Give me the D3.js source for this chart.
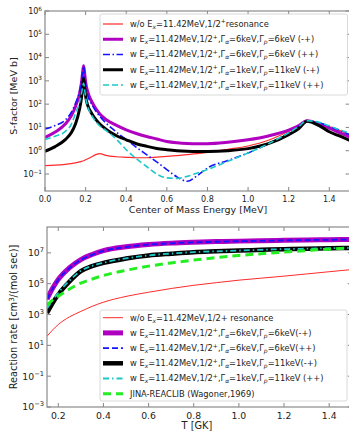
<!DOCTYPE html>
<html>
<head>
<meta charset="utf-8">
<script src="https://cdn.jsdelivr.net/npm/d3@7"></script>
<style>
  body { margin: 0; background: #fff; }
  svg { display: block; font-family: "DejaVu Sans", sans-serif; }
</style>
</head>
<body>
<div id="chart"></div>
<script>
// ---- top panel: S-factor vs centre of mass energy
var energy = [0, 0.05, 0.1, 0.13, 0.15, 0.17, 0.18, 0.185, 0.19, 0.195, 0.2, 0.21, 0.23, 0.25, 0.27, 0.3,
  0.35, 0.4, 0.45, 0.5, 0.55, 0.6, 0.65, 0.7, 0.75, 0.8, 0.9, 1.0, 1.1, 1.2, 1.25, 1.29, 1.35, 1.4, 1.45, 1.5];
var sNoRes = [0.23, 0.24, 0.26, 0.28, 0.3, 0.33, 0.35, 0.36, 0.37, 0.39, 0.41, 0.45, 0.55, 0.68, 0.75, 0.63,
  0.55, 0.52, 0.5, 0.5, 0.53, 0.57, 0.62, 0.68, 0.75, 0.85, 1.15, 1.6, 2.8, 6.8, 11.5, 19.5, 16, 11, 7.5, 4.9];
var s6mp = [3.7, 6.3, 14, 32, 80, 280, 900, 2200, 4500, 2200, 900, 350, 130, 65, 38, 22,
  12.6, 7.9, 5.5, 4.1, 3.2, 2.5, 2.2, 2.05, 2.0, 2.0, 2.3, 2.95, 4.3, 7.6, 12, 19.5, 14, 9.3, 6.0, 3.9];
var s6pp = [8.5, 12, 21, 45, 110, 350, 1000, 2300, 4300, 2000, 750, 250, 100, 50, 30, 15.5,
  6.5, 3.0, 1.4, 0.68, 0.33, 0.155, 0.075, 0.049, 0.085, 0.18, 0.38, 0.8, 2.0, 5.8, 11, 19, 16, 11, 7.5, 4.9];
var s1mp = [0.95, 1.5, 3.0, 6, 14, 60, 200, 550, 1300, 550, 220, 90, 40, 22, 14, 8.5,
  4.5, 2.95, 2.0, 1.55, 1.25, 1.1, 1.0, 0.95, 0.93, 0.93, 1.0, 1.23, 2.0, 4.9, 9, 18.5, 12, 6.5, 4.3, 2.8];
var s1pp = [3.0, 4.2, 6.8, 14, 40, 120, 300, 520, 800, 450, 200, 80, 33, 18, 11.5, 7.5,
  3.2, 1.1, 0.45, 0.21, 0.1, 0.068, 0.065, 0.079, 0.11, 0.155, 0.35, 0.8, 2.0, 5.8, 11, 19.5, 16.5, 11.7, 8, 5.7];

// ---- bottom panel: reaction rate vs temperature
var temp = [0.15, 0.175, 0.2, 0.25, 0.3, 0.35, 0.4, 0.5, 0.6, 0.7, 0.8, 0.9, 1.0, 1.1, 1.2, 1.3, 1.4, 1.5];
var rNoRes = [39, 100, 224, 710, 1.6e3, 3.4e3, 6.3e3, 1.5e4, 2.8e4, 4.9e4, 7.9e4, 1.17e5, 1.7e5, 2.3e5, 3.1e5, 4.3e5, 6.0e5, 8.3e5];
var r6mp = [1.0e4, 5.0e4, 1.9e5, 1.1e6, 3.7e6, 7.9e6, 1.4e7, 2.5e7, 3.5e7, 4.3e7, 4.9e7, 5.4e7, 5.8e7, 6.2e7, 6.6e7, 6.9e7, 7.2e7, 7.4e7];
var r6pp = [9.5e3, 4.8e4, 1.8e5, 1.05e6, 3.5e6, 7.5e6, 1.35e7, 2.4e7, 3.4e7, 4.2e7, 4.8e7, 5.3e7, 5.7e7, 6.1e7, 6.5e7, 6.8e7, 7.1e7, 7.3e7];
var r1mp = [1.25e3, 5.6e3, 2.0e4, 1.4e5, 6.5e5, 1.4e6, 2.25e6, 4.3e6, 6.8e6, 8.9e6, 1.12e7, 1.26e7, 1.41e7, 1.58e7, 1.74e7, 1.86e7, 2.0e7, 2.1e7];
var r1pp = [2.5e3, 8.5e3, 2.6e4, 1.6e5, 6.9e5, 1.45e6, 2.3e6, 4.4e6, 6.9e6, 9.0e6, 1.13e7, 1.27e7, 1.42e7, 1.59e7, 1.75e7, 1.87e7, 2.0e7, 2.1e7];
var rJina = [4.0e3, 8.9e3, 1.55e4, 4.5e4, 1.1e5, 2.0e5, 3.4e5, 7.4e5, 1.38e6, 2.24e6, 3.4e6, 4.9e6, 6.8e6, 8.9e6, 1.12e7, 1.41e7, 1.74e7, 2.1e7];

// tick labels
var topXTicks = [0, 0.2, 0.4, 0.6, 0.8, 1.0, 1.2, 1.4];
var topYTicks = [-1, 0, 1, 2, 3, 4, 5, 6];
var botXTicks = [0.2, 0.4, 0.6, 0.8, 1.0, 1.2, 1.4];
var botYTicks = [-3, -1, 1, 3, 5, 7];

// legend labels (_{..} subscript, ^{..} superscript)
var topLabels = [
  "w/o E_{x}=11.42MeV,1/2^{+}resonance",
  "w E_{x}=11.42MeV,1/2^{+},Γ_{α}=6keV,Γ_{p}=6keV (-+)",
  "w E_{x}=11.42MeV,1/2^{+},Γ_{α}=6keV,Γ_{p}=6keV (++)",
  "w E_{x}=11.42MeV,1/2^{+},Γ_{α}=1keV,Γ_{p}=11keV (-+)",
  "w E_{x}=11.42MeV,1/2^{+},Γ_{α}=1keV,Γ_{p}=11keV (++)"
];
var botLabels = [
  "w/o E_{x}=11.42MeV,1/2+ resonance",
  "w E_{x}=11.42MeV,1/2^{+},Γ_{α}=6keV,Γ_{p}=6keV(-+)",
  "w E_{x}=11.42MeV,1/2^{+},Γ_{α}=6keV,Γ_{p}=6keV(++)",
  "w E_{x}=11.42MeV,1/2^{+},Γ_{α}=1keV,Γ_{p}=11keV(-+)",
  "w E_{x}=11.42MeV,1/2^{+},Γ_{α}=1keV,Γ_{p}=11keV (++)",
  "JINA-REACLIB (Wagoner,1969)"
];

var width = 349, height = 432;
var svg = d3.select("#chart").append("svg").attr("width", width).attr("height", height);

var topStyles = [
  {color: "#ff2a2a", w: 1.2, dash: null},
  {color: "#b000c0", w: 3, dash: null},
  {color: "#1414ff", w: 1.6, dash: "7,2.5,1.5,2.5"},
  {color: "#000000", w: 3, dash: null},
  {color: "#1ec8c8", w: 1.6, dash: "6,3"}
];
var botStyles = [
  {color: "#ff2a2a", w: 1, dash: null},
  {color: "#b000c0", w: 5, dash: null},
  {color: "#1414ff", w: 1.8, dash: "6,3"},
  {color: "#000000", w: 4.5, dash: null},
  {color: "#1ec8c8", w: 1.8, dash: "6,3,1.5,3"},
  {color: "#22ee22", w: 3, dash: "8,5"}
];

// splits "a_{b}c^{d}" into tspans, shifting baseline for sub/superscripts
function richText(sel, str) {
  var re = /([_^])\{([^}]*)\}/g, last = 0, m, back = 0;
  function plain(s) {
    if (!s) return;
    sel.append("tspan").attr("dy", back || null).text(s);
    back = 0;
  }
  while ((m = re.exec(str)) !== null) {
    plain(str.slice(last, m.index));
    var sub = m[1] === "_";
    var shift = sub ? 2 : -3.5;
    sel.append("tspan").attr("dy", back + shift).attr("font-size", "0.72em")
      .attr("font-style", sub ? "italic" : null).text(m[2]);
    back = -shift;
    last = re.lastIndex;
  }
  plain(str.slice(last));
}

function panel(opt) {
  var g = svg.append("g");
  var x = d3.scaleLinear().domain(opt.xDomain).range([opt.left, opt.right]);
  var y = d3.scaleLog().domain(opt.yDomain).range([opt.bottom, opt.top]);

  var clipId = "clip" + opt.id;
  svg.append("clipPath").attr("id", clipId).append("rect")
    .attr("x", opt.left).attr("y", opt.top)
    .attr("width", opt.right - opt.left).attr("height", opt.bottom - opt.top);

  // inward ticks on all four sides
  var ax = g.append("g").attr("stroke", "#666").attr("stroke-width", 0.8);
  opt.xTicks.forEach(function(t) {
    ax.append("line").attr("x1", x(t)).attr("x2", x(t)).attr("y1", opt.bottom).attr("y2", opt.bottom - 4);
    ax.append("line").attr("x1", x(t)).attr("x2", x(t)).attr("y1", opt.top).attr("y2", opt.top + 4);
  });
  opt.yTicks.forEach(function(p) {
    var yy = y(Math.pow(10, p));
    ax.append("line").attr("x1", opt.left).attr("x2", opt.left + 4).attr("y1", yy).attr("y2", yy);
    ax.append("line").attr("x1", opt.right).attr("x2", opt.right - 4).attr("y1", yy).attr("y2", yy);
  });

  // series
  var line = d3.line().x(function(d) { return x(d[0]); }).y(function(d) { return y(d[1]); })
    .curve(d3.curveMonotoneX);
  var lg = g.append("g").attr("clip-path", "url(#" + clipId + ")");
  opt.series.forEach(function(s, i) {
    var st = opt.styles[i];
    lg.append("path").datum(d3.zip(opt.xs, s))
      .attr("d", line).attr("fill", "none")
      .attr("stroke", st.color).attr("stroke-width", st.w)
      .attr("stroke-dasharray", st.dash)
      .attr("stroke-linejoin", "round");
  });

  // frame
  g.append("rect").attr("x", opt.left).attr("y", opt.top)
    .attr("width", opt.right - opt.left).attr("height", opt.bottom - opt.top)
    .attr("fill", "none").attr("stroke", "#8a8a8a").attr("stroke-width", 1.2);

  // tick labels
  g.append("g").selectAll("text").data(opt.xTicks).join("text")
    .attr("x", function(d) { return x(d); }).attr("y", opt.bottom + opt.tickFont + 3)
    .attr("text-anchor", "middle").attr("font-size", opt.tickFont).attr("fill", "#222")
    .text(function(d) { return d.toFixed(1); });
  opt.yTicks.forEach(function(p) {
    var t = g.append("text").attr("x", opt.left - 3).attr("y", y(Math.pow(10, p)) + opt.tickFont * 0.36)
      .attr("text-anchor", "end").attr("font-size", opt.tickFont).attr("fill", "#222");
    t.append("tspan").text("10");
    t.append("tspan").attr("dy", -opt.tickFont * 0.42).attr("font-size", opt.tickFont * 0.72)
      .text(p < 0 ? "\u2212" + (-p) : p);
  });

  // axis titles
  g.append("text").attr("x", opt.xLabelX).attr("y", opt.xLabelY).attr("text-anchor", "middle")
    .attr("font-size", opt.labelFont).attr("fill", "#222").text(opt.xLabel);
  var yl = g.append("text").attr("transform", "translate(" + opt.yLabelX + "," + opt.yLabelY + ") rotate(-90)")
    .attr("text-anchor", "middle").attr("font-size", opt.labelFont).attr("fill", "#222");
  richText(yl, opt.yLabel);

  // legend
  var L = opt.legend;
  g.append("rect").attr("x", L.x).attr("y", L.y).attr("width", L.w).attr("height", L.h)
    .attr("rx", 2).attr("fill", "#fff").attr("fill-opacity", 0.85)
    .attr("stroke", "#cfcfcf").attr("stroke-width", 0.8);
  opt.labels.forEach(function(lab, i) {
    var st = opt.styles[i], yy = L.row0 + i * L.step;
    g.append("line").attr("x1", L.x + 3).attr("x2", L.x + 23).attr("y1", yy).attr("y2", yy)
      .attr("stroke", st.color).attr("stroke-width", st.w).attr("stroke-dasharray", st.dash);
    var t = g.append("text").attr("x", L.x + 30).attr("y", yy + L.font * 0.36)
      .attr("font-size", L.font).attr("fill", "#222");
    richText(t, lab);
  });
}

panel({
  id: "top", left: 45, right: 349.6, top: 11, bottom: 191,
  xDomain: [0, 1.5], yDomain: [Math.pow(10, -1.73), 1e6],
  xs: energy, series: [sNoRes, s6mp, s6pp, s1mp, s1pp], styles: topStyles,
  xTicks: topXTicks, yTicks: topYTicks, tickFont: 8,
  xLabel: "Center of Mass Energy [MeV]", xLabelX: 198, xLabelY: 213,
  yLabel: "S-factor [MeV b]", yLabelX: 17, yLabelY: 96, labelFont: 9.5,
  labels: topLabels,
  legend: {x: 100, y: 14, w: 247.5, h: 81, row0: 24, step: 15.25, font: 8.3}
});

panel({
  id: "bot", left: 47, right: 351.75, top: 227, bottom: 407,
  xDomain: [0.15, 1.5], yDomain: [1e-3, Math.pow(10, 8.68)],
  xs: temp, series: [rNoRes, r6mp, r6pp, r1mp, r1pp, rJina], styles: botStyles,
  xTicks: botXTicks, yTicks: botYTicks, tickFont: 9.3,
  xLabel: "T [GK]", xLabelX: 197, xLabelY: 429,
  yLabel: "Reaction rate [cm^{3}/(mol sec)]", yLabelX: 17, yLabelY: 317, labelFont: 9.8,
  labels: botLabels,
  legend: {x: 100, y: 310, w: 247, h: 91, row0: 317.7, step: 15.2, font: 8.3}
});
</script>
</body>
</html>
